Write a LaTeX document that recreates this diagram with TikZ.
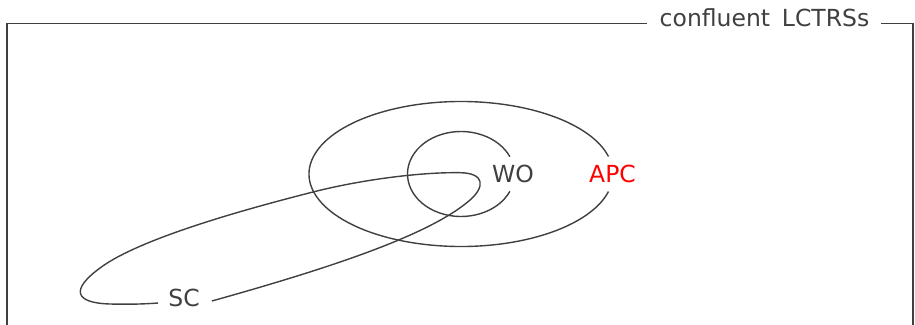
\documentclass[tikz,border=0pt]{standalone}
\usepackage{fontspec}
\setmainfont{DejaVu Sans}
\definecolor{linegray}{HTML}{404040}
\definecolor{apcred}{HTML}{FF0000}
\begin{document}
\begin{tikzpicture}[x=1pt,y=-1pt,
  outline/.style={draw=linegray, line width=1.4pt},
  setlabel/.style={text=linegray, font=\fontsize{23.5}{28}\selectfont, inner sep=0pt},
]
\useasboundingbox (0,0) rectangle (915,324);
\clip (0,0) rectangle (915,324);

% frame with its title set into the top edge
\node[setlabel] (title) at (764.5,18) {confluent\hspace{0.5em}LCTRSs};
\coordinate (frameTL) at (7,23.3);
\coordinate (frameTR) at (913,23.3);
\draw[outline] (7,340) -- (frameTL) -- ([xshift=-13pt]title.west |- frameTL);
\draw[outline] ([xshift=12pt]title.east |- frameTR) -- (frameTR) -- (913,340);

% labels
\node[setlabel] (wo) at (513,174) {WO};
\node[setlabel, text=apcred] (apc) at (612.5,174) {APC};
\node[setlabel] (sc) at (184,298) {SC};

% nested sets, opened where their labels sit
\coordinate (core) at (461,174);
\draw[outline] ([shift={(14:152 and 72.5)}]core)
  arc[start angle=14, end angle=346, x radius=152, y radius=72.5];
\draw[outline] ([shift={(24:53.5 and 42.5)}]core)
  arc[start angle=24, end angle=336, x radius=53.5, y radius=42.5];

% elongated SC region, opened at its label
\draw[outline] ([xshift=12pt,yshift=-3pt]sc.east)
  .. controls (330,268) and (430,235) .. (470,200)
  .. controls (485,187) and (485,173) .. (460,172.7)
  .. controls (420,172) and (360,180) .. (313,192)
  .. controls (250,208) and (140,238) .. (100,268)
  .. controls (70,290) and (75,303) .. (110,304)
  .. controls (130,304.5) and (145,304) .. ([xshift=-10pt,yshift=-5pt]sc.west);
\end{tikzpicture}
\end{document}
